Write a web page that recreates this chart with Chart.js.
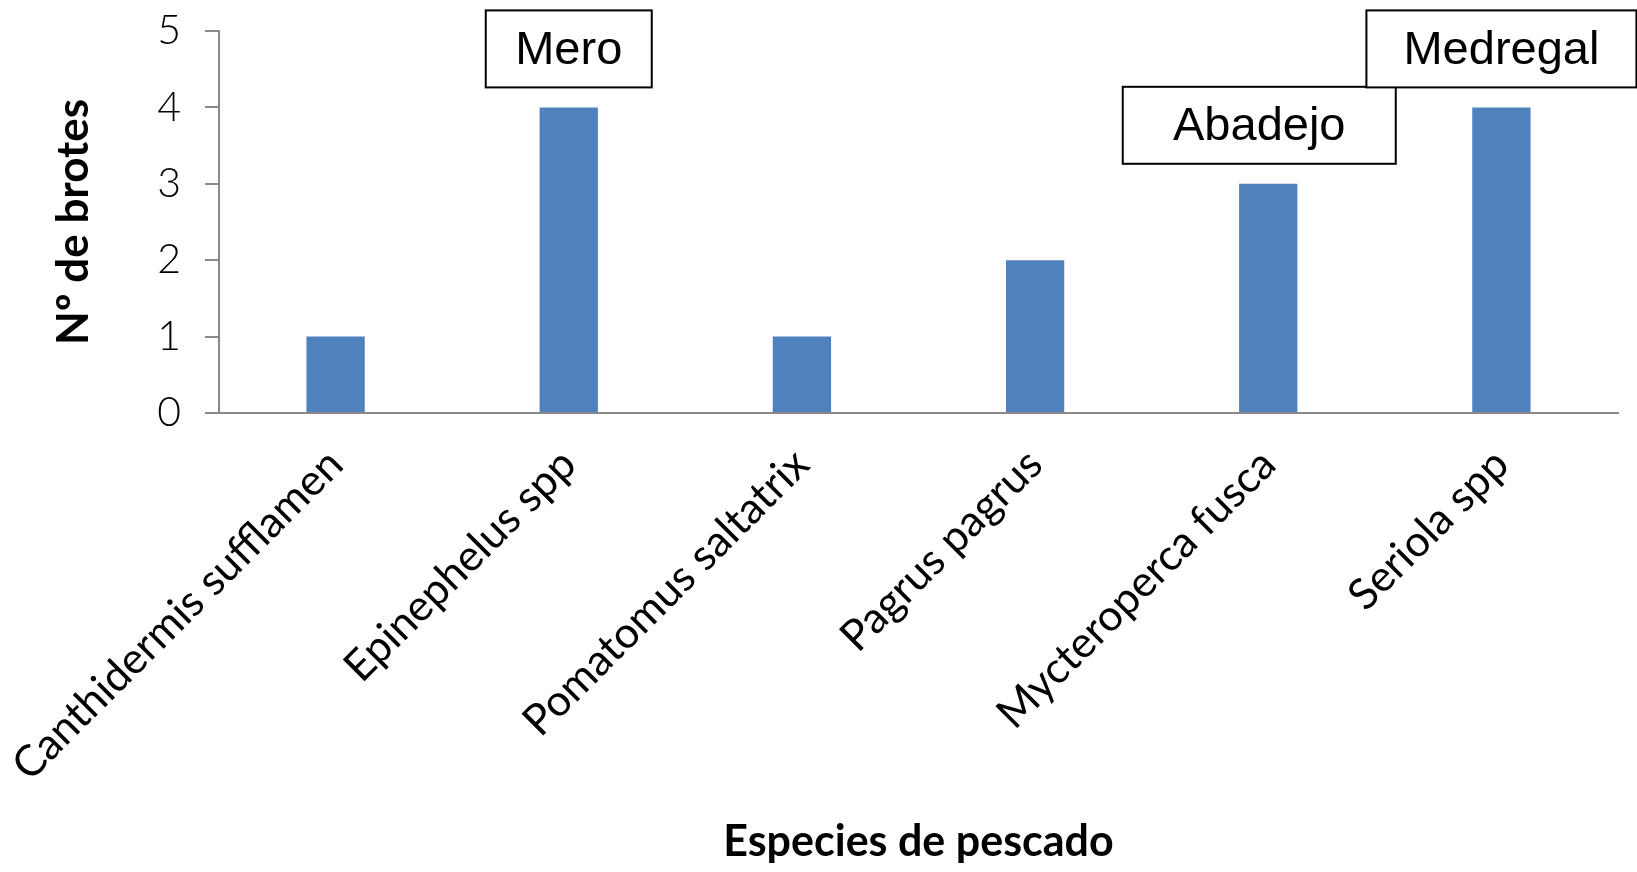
<!DOCTYPE html>
<html>
<head>
<meta charset="utf-8">
<script src="https://cdn.jsdelivr.net/npm/chart.js@4/dist/chart.umd.min.js"></script>
<style>
    html, body { margin: 0; padding: 0; background: #fff; }
    #wrap { width: 1637px; height: 872px; }
</style>
</head>
<body>
<div id="wrap"><canvas id="mainChart"></canvas></div>
<script>
// Datos del gráfico
const especies = ['Canthidermis sufflamen', 'Epinephelus spp', 'Pomatomus saltatrix', 'Pagrus pagrus', 'Mycteroperca fusca', 'Seriola spp'];
const brotes = [1, 4, 1, 2, 3, 4];
const nombresComunes = ['', 'Mero', '', '', 'Abadejo', 'Medregal'];
const yTicks = [0, 1, 2, 3, 4, 5];

// Estilo de las cajas (ancho y desplazamiento horizontal)
const cajaAncho = [0, 166, 0, 0, 273, 270];
const cajaDesplaz = [0, 0, 0, 0, -9, 0];

const AXIS_COLOR = '#898989';
const BAR_COLOR = '#4F81BD';

// Cajas con el nombre común encima de las barras
const cajasPlugin = {
    id: 'cajas',
    afterDatasetsDraw(chart) {
        const ctx = chart.ctx;
        const bars = chart.getDatasetMeta(0).data;
        ctx.save();
        ctx.font = '47px "Liberation Sans", Arial, sans-serif';
        ctx.textAlign = 'center';
        ctx.textBaseline = 'middle';
        nombresComunes.forEach((txt, i) => {
            if (!txt) return;
            const bar = bars[i];
            const cx = bar.x + cajaDesplaz[i];
            const w = cajaAncho[i];
            const h = 77;
            const bottom = bar.y - 20;
            const left = cx - w / 2;
            ctx.fillStyle = '#fff';
            ctx.fillRect(left, bottom - h, w, h);
            ctx.strokeStyle = '#000';
            ctx.lineWidth = 2;
            ctx.strokeRect(left, bottom - h, w, h);
            ctx.fillStyle = '#000';
            ctx.fillText(txt, cx, bottom - h / 2 + 2);
        });
        ctx.restore();
    }
};

const chart = new Chart(document.getElementById('mainChart'), {
    type: 'bar',
    data: {
        labels: especies,
        datasets: [{
            data: brotes,
            backgroundColor: BAR_COLOR,
            borderWidth: 0,
            categoryPercentage: 1,
            barPercentage: 0.25
        }]
    },
    options: {
        responsive: true,
        maintainAspectRatio: false,
        animation: false,
        layout: { padding: { top: 31, right: 19, left: 0, bottom: 0 } },
        plugins: {
            legend: { display: false },
            tooltip: { enabled: false }
        },
        scales: {
            x: {
                grid: { display: false, drawTicks: false },
                border: { display: true, color: AXIS_COLOR, width: 2 },
                ticks: {
                    color: '#000',
                    font: { family: 'Lato', size: 43 },
                    minRotation: 45,
                    maxRotation: 45,
                    autoSkip: false,
                    padding: 26
                },
                title: {
                    display: true,
                    text: 'Especies de pescado',
                    color: '#000',
                    font: { family: 'Lato', size: 43, weight: 'bold' },
                    padding: { top: 0, bottom: 4 }
                },
                afterFit(scale) {
                    scale.height = 459;
                    scale.paddingLeft = 0;
                    scale.paddingRight = 0;
                }
            },
            y: {
                min: 0,
                max: 5,
                afterBuildTicks(scale) { scale.ticks = yTicks.map(v => ({ value: v })); },
                grid: { drawOnChartArea: false, drawTicks: true, tickLength: 14, color: AXIS_COLOR, lineWidth: 2 },
                border: { display: true, color: AXIS_COLOR, width: 2 },
                ticks: {
                    color: '#000',
                    font: { family: 'Lato', size: 41, weight: 300 },
                    padding: 24
                },
                title: {
                    display: true,
                    text: 'Nº de brotes',
                    color: '#000',
                    font: { family: 'Lato', size: 44, weight: 'bold' },
                    padding: { top: 47, bottom: 0 }
                },
                afterFit(scale) {
                    scale.width = 219;
                    scale.paddingTop = 0;
                    scale.paddingBottom = 0;
                }
            }
        }
    },
    plugins: [cajasPlugin]
});
</script>
</body>
</html>
